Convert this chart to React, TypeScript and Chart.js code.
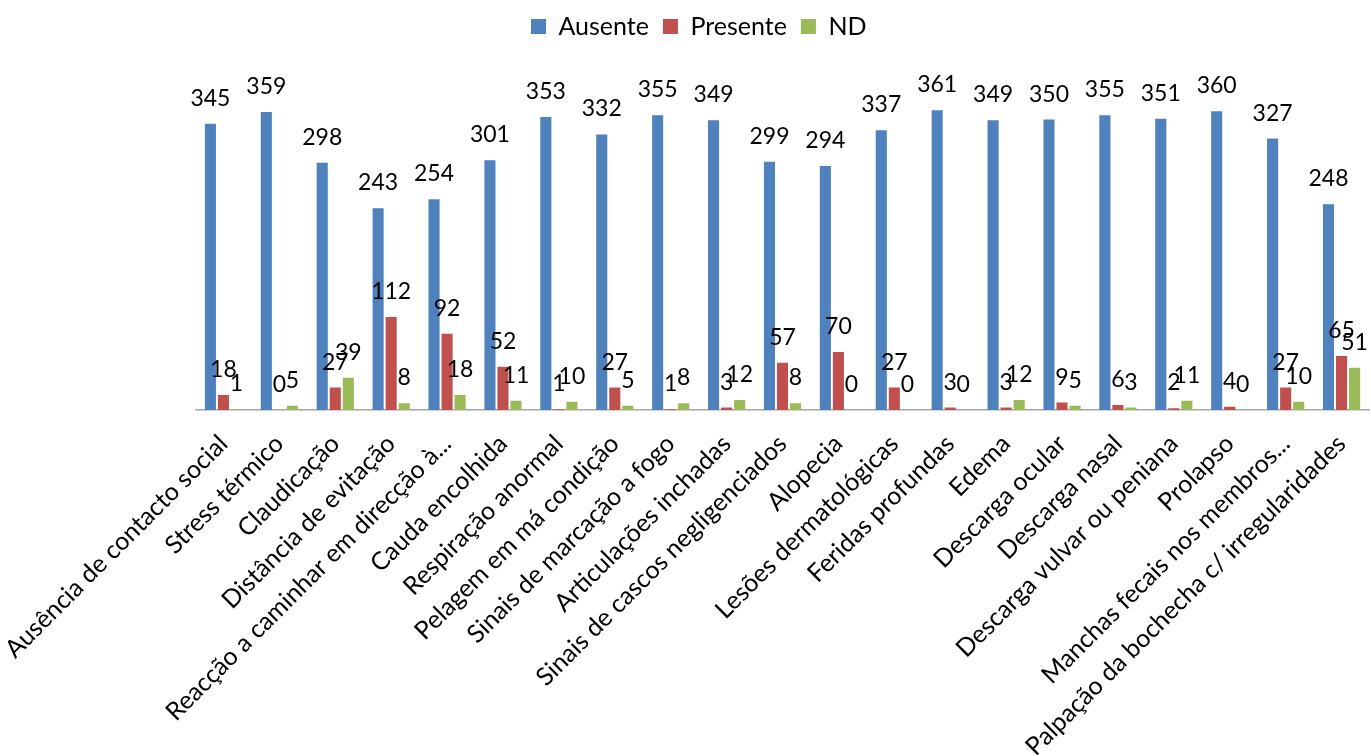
import React, { useEffect, useRef } from "react";
import { Chart, registerables } from "chart.js";

Chart.register(...registerables);

const categories = [
  "Ausência de contacto social",
  "Stress térmico",
  "Claudicação",
  "Distância de evitação",
  "Reacção a caminhar em direcção à...",
  "Cauda encolhida",
  "Respiração anormal",
  "Pelagem em má condição",
  "Sinais de marcação a fogo",
  "Articulações inchadas",
  "Sinais de cascos negligenciados",
  "Alopecia",
  "Lesões dermatológicas",
  "Feridas profundas",
  "Edema",
  "Descarga ocular",
  "Descarga nasal",
  "Descarga vulvar ou peniana",
  "Prolapso",
  "Manchas fecais nos membros...",
  "Palpação da bochecha c/ irregularidades",
];

const ausente = [345, 359, 298, 243, 254, 301, 353, 332, 355, 349, 299, 294, 337, 361, 349, 350, 355, 351, 360, 327, 248];
const presente = [18, 0, 27, 112, 92, 52, 1, 27, 1, 3, 57, 70, 27, 3, 3, 9, 6, 2, 4, 27, 65];
const nd = [1, 5, 39, 8, 18, 11, 10, 5, 8, 12, 8, 0, 0, 0, 12, 5, 3, 11, 0, 10, 51];

const seriesNames = ["Ausente", "Presente", "ND"];
const seriesColors = ["#4F81BD", "#C0504D", "#9BBB59"];

const FONT = "Lato, Carlito, 'Open Sans', sans-serif";

const dataLabels = {
  id: "dataLabels",
  afterDatasetsDraw(chart: any) {
    const ctx = chart.ctx;
    ctx.save();
    ctx.fillStyle = "#000";
    ctx.font = `23px ${FONT}`;
    ctx.textAlign = "center";
    ctx.textBaseline = "alphabetic";
    chart.data.datasets.forEach((ds: any, i: number) => {
      const meta = chart.getDatasetMeta(i);
      meta.data.forEach((el: any, j: number) => {
        ctx.fillText(String(ds.data[j]), el.x, el.y - 18);
      });
    });
    ctx.restore();
  },
};

const legendTweak = {
  id: "legendTweak",
  beforeInit(chart: any) {
    const legend = chart.legend;
    if (!legend) return;
    const orig = legend.fit;
    legend.fit = function () {
      orig.call(this);
      this.height = 78;
    };
  },
  afterLayout(chart: any) {
    const legend = chart.legend;
    if (!legend) return;
    legend.left += 14;
    legend.right += 14;
  },
};

export default function App() {
  const ref = useRef<HTMLCanvasElement | null>(null);
  useEffect(() => {
    if (!ref.current) return;
    const chart = new Chart(ref.current, {
      type: "bar",
      data: {
        labels: categories,
        datasets: [ausente, presente, nd].map((d, i) => ({
          label: seriesNames[i],
          data: d,
          backgroundColor: seriesColors[i],
          borderWidth: 0,
          categoryPercentage: 0.7,
          barPercentage: 0.85,
        })),
      },
      options: {
        animation: false,
        responsive: true,
        maintainAspectRatio: false,
        layout: { padding: { top: 0, right: 1.5, left: 0, bottom: 0 } },
        plugins: {
          legend: {
            position: "top",
            labels: {
              boxWidth: 15,
              boxHeight: 15,
              padding: 14,
              color: "#000",
              font: { family: FONT, size: 25 },
            },
          },
          tooltip: { enabled: false },
        },
        scales: {
          x: {
            grid: { display: false },
            border: { display: true, color: "#A6A6A6", width: 1.5 },
            ticks: {
              color: "#000",
              font: { family: FONT, size: 25 },
              maxRotation: 45,
              minRotation: 45,
              autoSkip: false,
              padding: 11,
            },
            afterFit(scale: any) {
              scale.height = 346;
              scale.paddingLeft = 0;
              scale.paddingRight = 0;
            },
          },
          y: {
            min: 0,
            max: 400,
            grid: { display: false },
            border: { display: false },
            ticks: { display: false },
            afterFit(scale: any) {
              scale.width = 195.5;
            },
          },
        },
      },
      plugins: [dataLabels, legendTweak],
    });
    return () => chart.destroy();
  }, []);
  return (
    <div style={{ position: "absolute", left: 0, top: 0, width: 1371, height: 756, background: "#fff" }}>
      <canvas ref={ref} />
    </div>
  );
}
